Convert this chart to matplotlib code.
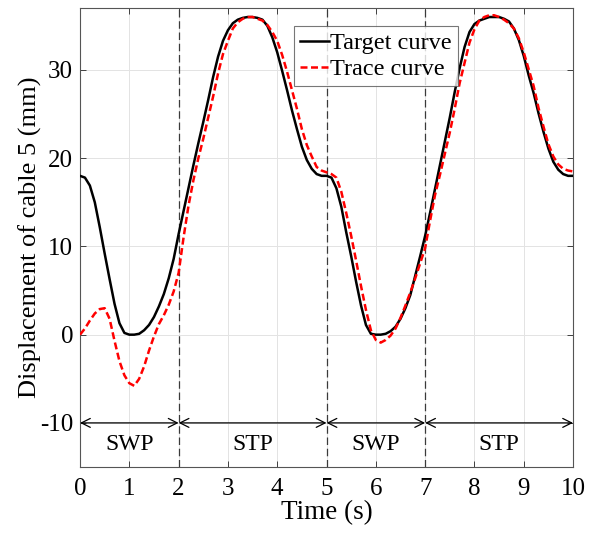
import numpy as np
import matplotlib
matplotlib.use("Agg")
import matplotlib.pyplot as plt

plt.rcParams['font.family'] = ['Liberation Serif', 'DejaVu Serif']
plt.rcParams['axes.unicode_minus'] = False

# sample times (s), 0.1 s step
tiempo = np.round(np.arange(0, 101) * 0.1, 1)

# target curve (mm)
target = [
    18.0, 17.8, 16.9, 15.0, 12.2, 9.2, 6.3, 3.5, 1.3, 0.2,
    0.0, 0.0, 0.1, 0.5, 1.1, 2.0, 3.2, 4.6, 6.4, 8.6,
    11.4, 14.0, 16.6, 19.2, 21.7, 24.1, 26.6, 29.2, 31.5, 33.3,
    34.5, 35.3, 35.7, 35.9, 36.0, 36.0, 35.9, 35.7, 35.0, 33.7,
    32.0, 29.9, 27.7, 25.4, 23.3, 21.3, 19.8, 18.8, 18.2, 18.0,
    18.0, 17.8, 16.6, 14.5, 11.6, 8.9, 6.0, 3.3, 1.1, 0.1,
    0.0, 0.0, 0.1, 0.4, 0.9, 1.8, 3.0, 4.5, 6.7, 8.9,
    11.2, 13.8, 16.5, 19.2, 21.9, 24.6, 27.5, 30.2, 32.6, 34.3,
    35.2, 35.6, 35.8, 36.0, 36.0, 36.0, 35.8, 35.5, 34.7, 33.4,
    31.6, 29.4, 27.4, 25.1, 23.0, 21.1, 19.6, 18.7, 18.2, 18.0,
    18.0,
]

# trace curve (mm)
trace = [
    0.0, 0.7, 1.6, 2.4, 2.9, 3.0, 1.8, -0.7, -3.0, -4.6,
    -5.5, -5.8, -5.0, -3.6, -1.8, -0.2, 1.2, 2.2, 3.4, 4.9,
    7.0, 11.0, 14.6, 17.5, 20.0, 22.2, 24.6, 27.0, 29.6, 31.8,
    33.3, 34.7, 35.4, 35.8, 36.0, 36.0, 35.8, 35.6, 35.1, 34.3,
    33.3, 31.7, 29.8, 27.7, 25.6, 23.3, 21.5, 20.2, 19.0, 18.6,
    18.4, 18.2, 17.8, 16.2, 13.8, 11.2, 8.4, 5.5, 2.8, 0.5,
    -0.6, -0.9, -0.6, -0.1, 0.7, 1.9, 3.3, 4.8, 6.4, 8.1,
    9.8, 12.9, 15.8, 18.1, 20.5, 22.9, 25.6, 28.5, 30.8, 33.1,
    34.6, 35.6, 36.0, 36.2, 36.2, 36.0, 35.7, 35.3, 34.7, 33.6,
    32.0, 30.1, 28.2, 25.7, 23.6, 21.6, 20.2, 19.3, 18.8, 18.6,
    18.5,
]

# phase boundaries and labels
limites = [0, 2, 5, 7, 10]
fases = ['SWP', 'STP', 'SWP', 'STP']

fig = plt.figure(figsize=(5.94, 5.36), dpi=100)
ax = fig.add_axes([0.1347, 0.1287, 0.830, 0.856])

ax.plot(tiempo, target, color='black', linewidth=1.8, label='Target curve',
        solid_joinstyle='round', zorder=4)
ax.plot(tiempo, trace, color='red', linewidth=1.8, dashes=(2.8, 1.4),
        label='Trace curve', zorder=5)

for xb in limites[1:-1]:
    ax.axvline(xb, color='#3a3a3a', linewidth=0.9, dashes=(6, 3), zorder=3)

for i, nombre in enumerate(fases):
    a, b = limites[i], limites[i + 1]
    ax.annotate('', xy=(b, -10), xytext=(a, -10),
                arrowprops=dict(arrowstyle='<->', color='black', lw=0.9,
                                shrinkA=0, shrinkB=0, mutation_scale=16))
    ax.text((a + b) / 2, -12.4, nombre, ha='center', va='center', fontsize=17)

ax.set_xlim(0, 10)
ax.set_ylim(-15, 37)
ax.set_xticks(range(0, 11))
ax.set_yticks([-10, 0, 10, 20, 30])
ax.set_yticklabels(['-10', '0', '10', '20', '30'])
ax.tick_params(direction='in', top=True, right=True, labelsize=18,
               colors='#262626', length=4, width=0.6)
ax.tick_params(axis='x', pad=8)
ax.tick_params(axis='y', pad=5)
for lab in ax.get_xticklabels() + ax.get_yticklabels():
    lab.set_color('black')
ax.grid(True, color='#e3e3e3', linewidth=0.7)
ax.set_axisbelow(True)
for sp in ax.spines.values():
    sp.set_color('#555555')
    sp.set_linewidth(0.8)

ax.set_xlabel('Time (s)', fontsize=19.5, labelpad=0)
ax.set_ylabel('Displacement of cable 5 (mm)', fontsize=19)
ax.yaxis.set_label_coords(-0.077, 0.5)

leg = ax.legend(loc='upper left', bbox_to_anchor=(0.434, 0.961), fontsize=17.5,
                frameon=True, fancybox=False, edgecolor='#555555',
                handlelength=1.2, handletextpad=0.05, borderpad=0.25,
                labelspacing=0.17, borderaxespad=0)
leg.get_frame().set_linewidth(0.8)

fig.savefig('out.png', dpi=100)
